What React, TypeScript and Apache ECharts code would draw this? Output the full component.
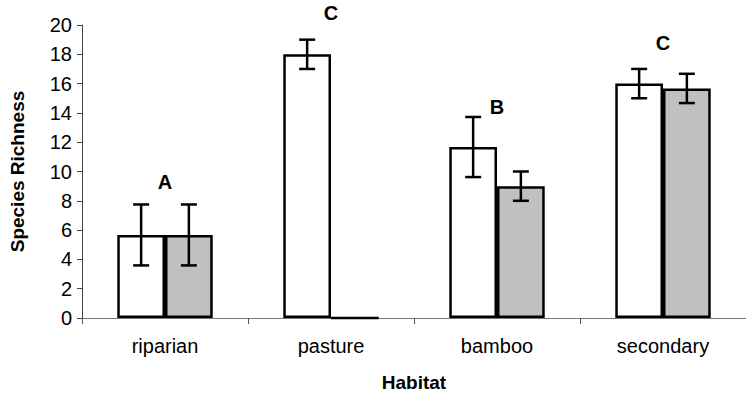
import React, { useEffect, useRef } from "react";
import * as echarts from "echarts";

const categories = ["riparian", "pasture", "bamboo", "secondary"];
const whiteMeans = [5.67, 18, 11.67, 16];
const whiteErr = [2.08, 1, 2.05, 1];
const grayMeans = [5.67, 0, 9, 15.67];
const grayErr = [2.08, 0, 1, 1];
const letters = ["A", "C", "B", "C"];
const letterY = [9.3, 20.8, 14.4, 18.75];
const yTicks = { min: 0, max: 20, interval: 2 };

const CAT_GAP = 0.425;

export default function App() {
  const ref = useRef<HTMLDivElement>(null);
  useEffect(() => {
    if (!ref.current) return;
    const chart = echarts.init(ref.current, null, { renderer: "svg" });

    const errData: number[][] = [];
    whiteMeans.forEach((m, i) => {
      if (whiteErr[i] > 0) errData.push([i, m - whiteErr[i], m + whiteErr[i], 0]);
    });
    grayMeans.forEach((m, i) => {
      if (grayErr[i] > 0) errData.push([i, m - grayErr[i], m + grayErr[i], 1]);
    });
    const letterData = letters.map((l, i) => [i, letterY[i], l]);

    const font = "Liberation Sans, Arial, sans-serif";

    chart.setOption({
      animation: false,
      backgroundColor: "#ffffff",
      grid: { left: 82, right: -4, top: 25, bottom: 80, containLabel: false },
      xAxis: {
        type: "category",
        data: categories,
        name: "Habitat",
        nameLocation: "middle",
        nameGap: 55,
        nameTextStyle: { fontFamily: font, fontSize: 19, fontWeight: "bold", color: "#000" },
        axisLine: { lineStyle: { color: "#777", width: 1 } },
        axisTick: { show: true, length: 6, lineStyle: { color: "#555" } },
        axisLabel: { fontFamily: font, fontSize: 20, color: "#000", margin: 18 },
      },
      yAxis: {
        type: "value",
        min: yTicks.min,
        max: yTicks.max,
        interval: yTicks.interval,
        name: "Species Richness",
        nameLocation: "middle",
        nameGap: 55,
        nameTextStyle: { fontFamily: font, fontSize: 19, fontWeight: "bold", color: "#000" },
        axisLine: { show: true, lineStyle: { color: "#444", width: 1 } },
        axisTick: { show: true, length: 5, lineStyle: { color: "#444" } },
        axisLabel: { fontFamily: font, fontSize: 20, color: "#000", margin: 10 },
        splitLine: { show: false },
      },
      series: [
        {
          type: "bar",
          data: whiteMeans,
          barGap: "0%",
          barCategoryGap: CAT_GAP * 100 + "%",
          itemStyle: { color: "#ffffff", borderColor: "#000", borderWidth: 2.5 },
        },
        {
          type: "bar",
          data: grayMeans,
          barGap: "0%",
          barCategoryGap: CAT_GAP * 100 + "%",
          itemStyle: { color: "#c0c0c0", borderColor: "#000", borderWidth: 2.5 },
        },
        {
          type: "custom",
          data: errData,
          clip: false,
          z: 10,
          renderItem: (params: any, api: any) => {
            const cat = api.value(0);
            const sIdx = api.value(3);
            const catW = api.size([1, 0])[0];
            const barW = (catW * (1 - CAT_GAP)) / 2;
            const off = (sIdx === 0 ? -1 : 1) * (barW / 2);
            const lo = api.coord([cat, api.value(1)]);
            const hi = api.coord([cat, api.value(2)]);
            const x = lo[0] + off;
            const cap = 8;
            const style = { stroke: "#000", lineWidth: 2.5 };
            return {
              type: "group",
              children: [
                { type: "line", shape: { x1: x, y1: lo[1], x2: x, y2: hi[1] }, style },
                { type: "line", shape: { x1: x - cap, y1: lo[1], x2: x + cap, y2: lo[1] }, style },
                { type: "line", shape: { x1: x - cap, y1: hi[1], x2: x + cap, y2: hi[1] }, style },
              ],
            };
          },
        },
        {
          type: "custom",
          data: letterData,
          clip: false,
          z: 11,
          renderItem: (params: any, api: any) => {
            const p = api.coord([api.value(0), api.value(1)]);
            return {
              type: "text",
              x: p[0],
              y: p[1],
              style: {
                text: letterData[params.dataIndex][2] as any,
                fontFamily: font,
                fontSize: 20,
                fontWeight: "bold",
                fill: "#000",
                align: "center",
                verticalAlign: "middle",
              },
            };
          },
        },
      ],
    });
    return () => chart.dispose();
  }, []);
  return <div ref={ref} style={{ width: 746, height: 398, position: "absolute", left: 0, top: 0 }} />;
}
